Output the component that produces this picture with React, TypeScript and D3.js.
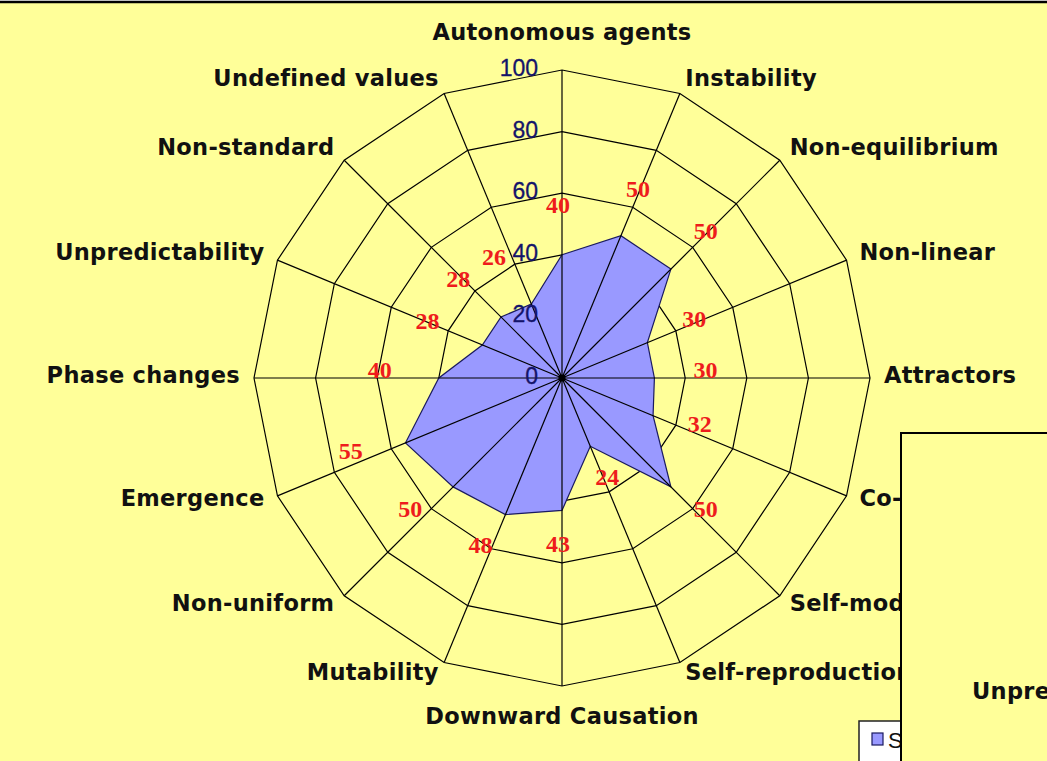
import React from 'react';
import * as d3 from 'd3';

const categories = [
  'Autonomous agents', 'Instability', 'Non-equilibrium', 'Non-linear', 'Attractors',
  'Co-evolution', 'Self-modification', 'Self-reproduction', 'Downward Causation',
  'Mutability', 'Non-uniform', 'Emergence', 'Phase changes', 'Unpredictability',
  'Non-standard', 'Undefined values',
];
const values = [40, 50, 50, 30, 30, 32, 50, 24, 43, 48, 50, 55, 40, 28, 28, 26];
const tickValues = [0, 20, 40, 60, 80, 100];
const seriesName = 'Series1';
const overlayText = 'Unpredictability';

const W = 1047;
const H = 761;
const cx = 562;
const cy = 378;
const R = 308;

export default function App() {
  const n = categories.length;
  const step = (2 * Math.PI) / n;
  const r = d3.scaleLinear().domain([0, 100]).range([0, R]);
  const ang = (i: number) => i * step;
  const px = (i: number, v: number) => cx + r(v) * Math.sin(ang(i));
  const py = (i: number, v: number) => cy - r(v) * Math.cos(ang(i));

  const ring = d3
    .lineRadial<number>()
    .angle((_, i) => ang(i))
    .radius((d) => r(d))
    .curve(d3.curveLinearClosed);

  const catFont = "'DejaVu Sans', sans-serif";
  const tickColumnLeft = cx - 50;

  return (
    <svg width={W} height={H} style={{ position: 'absolute', left: 0, top: 0 }}>
      <rect x={0} y={0} width={W} height={H} fill="#ffffff" />
      <rect x={0} y={3} width={W} height={H - 3} fill="#ffff99" />
      <line x1={0} x2={W} y1={2} y2={2} stroke="#000" strokeWidth={2.5} />

      <g transform={`translate(${cx},${cy})`}>
        {tickValues
          .filter((t) => t > 0)
          .map((t) => (
            <path key={t} d={ring(categories.map(() => t)) || ''} fill="none" stroke="#000" strokeWidth={1.2} />
          ))}
        <path d={ring(values) || ''} fill="#9999ff" stroke="#1a1a60" strokeWidth={1.2} />
      </g>

      {categories.map((c, i) => (
        <line key={c} x1={cx} y1={cy} x2={px(i, 100)} y2={py(i, 100)} stroke="#000" strokeWidth={1.2} />
      ))}
      <circle cx={cx} cy={cy} r={3.5} fill="#000" />

      {tickValues.map((t) => (
        <text
          key={t}
          x={cx - 24}
          y={cy - r(t) - 2}
          textAnchor="end"
          dominantBaseline="central"
          fontFamily="'Liberation Sans', Arial, sans-serif"
          fontSize={23}
          fill="#14146a"
          stroke="#14146a"
          strokeWidth={0.3}
        >
          {t}
        </text>
      ))}

      {values.map((v, i) => {
        const a = ang(i);
        let x = px(i, v) + 55 * Math.sin(a) - 4;
        const y = py(i, v) - 42 * Math.cos(a) - 8;
        // keep clear of the tick-label column left of the vertical axis
        if (Math.sin(a) < -0.1 && y < cy && x + 14 > tickColumnLeft) x = tickColumnLeft - 18;
        return (
          <text
            key={i}
            x={x}
            y={y}
            textAnchor="middle"
            dominantBaseline="central"
            fontFamily="'Liberation Serif', 'Times New Roman', serif"
            fontWeight="bold"
            fontSize={24}
            fill="#ee1c1c"
          >
            {v}
          </text>
        );
      })}

      {categories.map((c, i) => {
        const a = ang(i);
        const s = Math.sin(a);
        const co = Math.cos(a);
        const x = cx + (R + 14) * s;
        let y = cy - (R + 14) * co - 3;
        let anchor: 'start' | 'end' | 'middle' = 'middle';
        if (s > 0.1) anchor = 'start';
        else if (s < -0.1) anchor = 'end';
        else y += co > 0 ? -21 : 19;
        return (
          <text
            key={c}
            x={x}
            y={y}
            textAnchor={anchor}
            dominantBaseline="central"
            fontFamily={catFont}
            fontWeight="bold"
            fontSize={22.5}
            letterSpacing={0.3}
            fill="#111"
          >
            {c}
          </text>
        );
      })}

      <g>
        <rect x={859} y={721} width={120} height={60} fill="#ffffff" stroke="#222" strokeWidth={1.5} />
        <rect x={872} y={733} width={11} height={12} fill="#9999ff" stroke="#1a1a60" strokeWidth={1.2} />
        <text x={888} y={740} dominantBaseline="central" fontFamily="'Liberation Sans', Arial, sans-serif" fontSize={22} fill="#111">
          {seriesName}
        </text>
      </g>

      <g>
        <rect x={901} y={433} width={W} height={H} fill="#ffff99" stroke="#000" strokeWidth={2} />
        <text x={972} y={691} dominantBaseline="central" fontFamily={catFont} fontWeight="bold" fontSize={22.5} letterSpacing={0.3} fill="#111">
          {overlayText}
        </text>
      </g>
    </svg>
  );
}
